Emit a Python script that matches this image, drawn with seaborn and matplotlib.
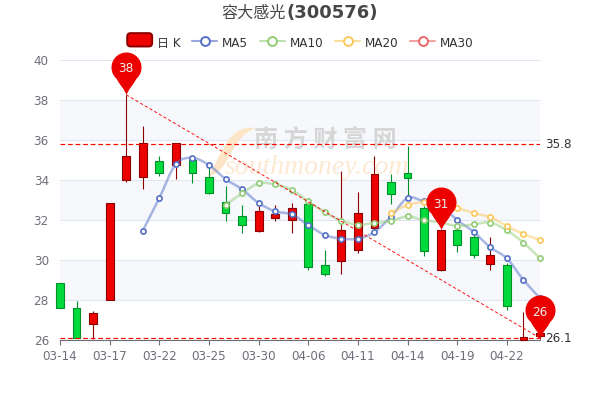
import numpy as np
import matplotlib
matplotlib.use('Agg')
import matplotlib.pyplot as plt
import seaborn as sns
from matplotlib.colors import to_rgba
from matplotlib.font_manager import FontProperties
from matplotlib.legend_handler import HandlerPatch
from matplotlib.lines import Line2D
from matplotlib.patches import FancyBboxPatch, PathPatch, Patch
from matplotlib.path import Path

dates = ['03-14', '03-15', '03-16', '03-17', '03-18', '03-21', '03-22', '03-23', '03-24', '03-25',
         '03-28', '03-29', '03-30', '03-31', '04-01', '04-06', '04-07', '04-08', '04-11', '04-12',
         '04-13', '04-14', '04-15', '04-18', '04-19', '04-20', '04-21', '04-22', '04-25', '04-26']

# K线: 开盘 收盘 最低 最高
opens = [28.83, 27.6, 26.8, 28.0, 34.0, 34.15, 34.93, 34.73, 35.0, 34.17,
         32.9, 32.2, 31.43, 32.08, 32.0, 32.8, 29.73, 29.95, 30.5, 31.6,
         33.9, 34.35, 32.6, 29.52, 31.5, 31.13, 29.82, 29.73, 26.0, 26.2]
closes = [27.6, 26.1, 27.35, 32.83, 35.2, 35.85, 34.35, 35.85, 34.35, 33.35,
          32.37, 31.75, 32.45, 32.28, 32.58, 29.65, 29.3, 31.5, 32.35, 34.3,
          33.3, 34.08, 30.47, 31.48, 30.73, 30.23, 30.25, 27.7, 26.17, 26.35]
lows = [27.6, 26.1, 26.05, 28.0, 33.9, 33.55, 34.2, 34.07, 33.85, 33.3,
        31.97, 31.35, 31.4, 31.93, 31.35, 29.48, 29.18, 29.28, 30.33, 31.5,
        32.8, 33.1, 30.18, 29.43, 30.38, 30.08, 29.52, 27.48, 26.0, 26.05]
highs = [28.83, 27.96, 27.46, 32.83, 38.26, 36.7, 35.2, 35.85, 35.1, 34.6,
         33.68, 32.76, 32.8, 32.76, 32.85, 32.85, 30.5, 34.46, 33.4, 35.2,
         34.3, 35.7, 32.7, 31.5, 32.0, 31.4, 31.13, 29.85, 27.42, 26.5]

nan = np.nan
ma5 = [nan, nan, nan, nan, nan, 31.46, 33.1, 34.8, 35.1, 34.75,
       34.05, 33.53, 32.85, 32.43, 32.28, 31.75, 31.25, 31.07, 31.07, 31.4,
       32.17, 33.1, 32.93, 32.7, 32.0, 31.4, 30.63, 30.08, 29.0, 28.1]
ma10 = [nan] * 10 + [32.75, 33.33, 33.83, 33.78, 33.5, 32.93, 32.38, 31.97, 31.77, 31.85,
                     31.95, 32.18, 31.98, 31.88, 31.7, 31.78, 31.87, 31.48, 30.87, 30.08]
ma20 = [nan] * 20 + [32.35, 32.75, 32.9, 32.85, 32.6, 32.35, 32.13, 31.7, 31.3, 31.0]

ma_names = ['MA5', 'MA10', 'MA20', 'MA30']
ma_colors = ['#5470c6', '#91cc75', '#fac858', '#ee6666']

max_line = 35.8
min_line = 26.1
peak_idx = 4
pin_idx = [4, 23, 29]
pin_vals = [38.26, 31.48, 26.1]

up_col, up_edge = '#ec0000', '#8a0000'
down_col, down_edge = '#00da3c', '#008f28'

sns.set_theme(style='white')
cjk = ['DejaVu Sans', 'Noto Sans CJK SC']
plt.rcParams['font.family'] = cjk

fig = plt.figure(figsize=(6, 4), dpi=100)
ax = fig.add_axes([60 / 600, 60 / 400, 480 / 600, 280 / 400])
x = np.arange(len(dates))
ax.set_xlim(0, len(dates) - 1)
ax.set_ylim(26, 40)


# 像素坐标转 figure 坐标, 只用于水印
def fx(px):
    return px / 600


def fy(py):
    return 1 - py / 400


# 背景条纹 + 网格线
for low in [36, 32, 28]:
    ax.axhspan(low, low + 2, color='#f6f8fc', lw=0, zorder=0)
for val in range(28, 41, 2):
    ax.axhline(val, color='#e0e6f1', lw=0.75, zorder=0.5, clip_on=False)

# 水印
logo = Path([(fx(256), fy(128)), (fx(228), fy(124)), (fx(222), fy(155)), (fx(208), fy(176)),
             (fx(232), fy(172)), (fx(228), fy(138)), (fx(256), fy(128))],
            [Path.MOVETO, Path.CURVE4, Path.CURVE4, Path.CURVE4, Path.CURVE4, Path.CURVE4, Path.CURVE4])
ax.add_patch(PathPatch(logo, facecolor='#fde6c8', edgecolor='none', transform=fig.transFigure, zorder=1, clip_on=False))
ax.text(fx(325), fy(140), '南 方 财 富 网', transform=fig.transFigure, family='Noto Sans CJK SC', weight='bold',
        fontsize=17.4, color='#d6d6d6', ha='center', va='center', zorder=1)
ax.text(fx(317), fy(167), 'southmoney.com', transform=fig.transFigure, family='Liberation Serif', style='italic',
        fontsize=20, color='#fde9d2', ha='center', va='center', zorder=1)

# K线
for i in x:
    up = closes[i] >= opens[i]
    edge = up_edge if up else down_edge
    ax.vlines(i, lows[i], highs[i], color=edge, lw=0.8, zorder=3, clip_on=False)
    ax.bar(i, abs(closes[i] - opens[i]), bottom=min(opens[i], closes[i]), width=0.47,
           color=up_col if up else down_col, edgecolor=edge, linewidth=0.8, zorder=3.2, clip_on=False)


# 平滑曲线, 穿过每个数据点
def smooth_path(xs, ys):
    keep = ~np.isnan(ys)
    pts = np.column_stack([xs[keep], ys[keep]])
    verts = [pts[0]]
    codes = [Path.MOVETO]
    for i in range(len(pts) - 1):
        prev_pt = pts[max(i - 1, 0)]
        next_pt = pts[min(i + 2, len(pts) - 1)]
        verts += [pts[i] + (pts[i + 1] - prev_pt) / 6, pts[i + 1] - (next_pt - pts[i]) / 6, pts[i + 1]]
        codes += [Path.CURVE4] * 3
    return Path(verts, codes)


for vals, col in zip([ma5, ma10, ma20], ma_colors):
    vals = np.array(vals)
    ax.add_patch(PathPatch(smooth_path(x, vals), facecolor='none', edgecolor=col, lw=1.8, alpha=0.5,
                           zorder=4, clip_on=False))
    sns.scatterplot(x=x, y=vals, ax=ax, s=14, facecolor='white', edgecolor=col, linewidth=1.2,
                    zorder=4.5, clip_on=False, legend=False)

# 最高最低虚线
ax.plot([0, len(dates) - 1], [max_line, max_line], color='#ff0000', lw=0.85, dashes=(4, 2.4), zorder=5)
ax.plot([0, len(dates) - 1], [min_line, min_line], color='#ff0000', lw=0.85, dashes=(4, 2.4), zorder=5, clip_on=False)
ax.plot([peak_idx, len(dates) - 1], [highs[peak_idx], min_line], color='#ff0000', lw=0.65, dashes=(3.5, 2.5), zorder=5)
ax.annotate(str(max_line), (len(dates) - 1, max_line), xytext=(4, 0), textcoords='offset points',
            va='center', fontsize=8.64, color='#333333', annotation_clip=False)
ax.annotate(str(min_line), (len(dates) - 1, min_line), xytext=(4, -0.5), textcoords='offset points',
            va='center', fontsize=8.64, color='#333333', annotation_clip=False)

# 气泡标记
pin_arc = Path.arc(-48, 228)
pin_verts = list(pin_arc.vertices * 15 + [0, 28]) + [(-7, 11), (-1, 5), (0, 0), (1, 5), (7, 11),
                                                      pin_arc.vertices[0] * 15 + [0, 28]]
pin_codes = list(pin_arc.codes) + [Path.CURVE4] * 6
pin_marker = Path(pin_verts, pin_codes)
ax.scatter(pin_idx, pin_vals, marker=pin_marker, s=3834, color=up_col, linewidths=0, zorder=6, clip_on=False)
for i, v in zip(pin_idx, pin_vals):
    ax.annotate(str(int(v)), (i, v), xytext=(0, 26 * 0.72), textcoords='offset points', ha='center', va='center',
                fontsize=8.64, color='#eeeeee', zorder=7, annotation_clip=False)

# 坐标轴
sns.despine(ax=ax, left=True, top=True, right=True)
ax.spines['bottom'].set_color('#6e7079')
ax.spines['bottom'].set_linewidth(0.8)
ax.set_yticks(range(26, 41, 2))
ax.tick_params(axis='y', length=0, pad=8, labelsize=8.64, labelcolor='#6e7079')
ax.set_xticks(x[::3][:1].tolist() + x[3::3].tolist())
ax.set_xticklabels([dates[i] for i in ax.get_xticks().astype(int)])
ax.tick_params(axis='x', bottom=True, length=3.6, width=0.8, color='#6e7079', pad=3.5, labelsize=8.64, labelcolor='#6e7079')
ax.grid(False)

# 标题
fig.text(fx(286), fy(13), '容大感光', family='Noto Sans CJK SC', fontsize=11.6, color='#464646', ha='right', va='center')
fig.text(fx(287), fy(13), '(300576)', family='DejaVu Sans', weight='bold', fontsize=13, color='#464646', ha='left', va='center')


# 图例
def round_handle(legend, orig_handle, xdescent, ydescent, width, height, fontsize):
    return FancyBboxPatch((xdescent + 0.6, ydescent - 1.0), width - 1.2, height - 1.0, boxstyle='round,pad=0.6,rounding_size=2.5')


handles = [Patch(facecolor=up_col, edgecolor=up_edge, linewidth=1.4)]
for col in ma_colors:
    handles.append(Line2D([0], [0], color=to_rgba(col, 0.6), lw=1.5, marker='o', markersize=6.4, markerfacecolor='white',
                          markeredgecolor=col, markeredgewidth=1.4))
leg = fig.legend(handles, ['日 K'] + ma_names, loc='center', bbox_to_anchor=(fx(300.5), fy(43)), ncol=5, frameon=False,
                 prop=FontProperties(family=cjk, size=8.64), handlelength=2.08, handleheight=1.3, handletextpad=0.42,
                 columnspacing=0.96, borderpad=0, labelcolor='#333333',
                 handler_map={Patch: HandlerPatch(patch_func=round_handle)})

fig.savefig('out.png', dpi=100, facecolor='white')
